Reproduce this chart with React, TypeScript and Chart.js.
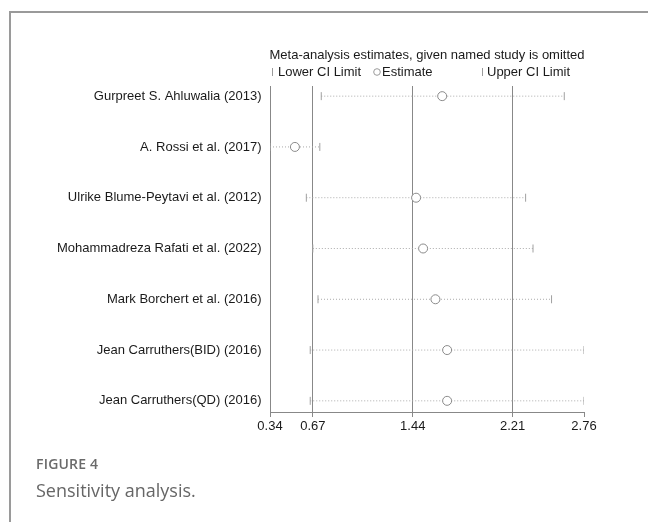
import React, { useEffect, useRef } from "react";
import { Chart, registerables } from "chart.js";
Chart.register(...registerables);

const studies = [
  "Gurpreet S. Ahluwalia (2013)",
  "A. Rossi et al. (2017)",
  "Ulrike Blume-Peytavi et al. (2012)",
  "Mohammadreza Rafati et al. (2022)",
  "Mark Borchert et al. (2016)",
  "Jean Carruthers(BID) (2016)",
  "Jean Carruthers(QD) (2016)",
];
const lowerCI = [0.735, 0.34, 0.62, 0.67, 0.71, 0.65, 0.65];
const estimate = [1.667, 0.532, 1.466, 1.52, 1.615, 1.705, 1.705];
const upperCI = [2.608, 0.724, 2.31, 2.367, 2.51, 2.76, 2.76];
const xTicks = [0.34, 0.67, 1.44, 2.21, 2.76];
const titleText = "Meta-analysis estimates, given named study is omitted";
const legendLower = "Lower CI Limit";
const legendEst = "Estimate";
const legendUpper = "Upper CI Limit";

const FONT = '"Liberation Sans", Arial, Helvetica, sans-serif';
const TEXT = "#1a1a1a";
const AXIS = "#888888";

export default function App() {
  const ref = useRef<HTMLCanvasElement>(null);
  useEffect(() => {
    const rows = studies.map((_, i) => i + 1);
    const ciSets: any[] = studies.map((_, i) => ({
      type: "line",
      data: [
        { x: lowerCI[i], y: rows[i] },
        { x: upperCI[i], y: rows[i] },
      ],
      borderColor: "#ababab",
      borderWidth: 1,
      borderDash: [1, 2],
      pointRadius: 0,
      fill: false,
      order: 3,
    }));
    const tickPts: any[] = [];
    studies.forEach((_, i) => {
      tickPts.push({ x: lowerCI[i], y: rows[i] });
      tickPts.push({ x: upperCI[i], y: rows[i] });
    });
    const annot = {
      id: "annot",
      afterDraw(chart: any) {
        const { ctx, chartArea, scales } = chart;
        const ys = scales.y;
        ctx.save();
        ctx.font = `13px ${FONT}`;
        ctx.fillStyle = TEXT;
        ctx.textBaseline = "middle";
        ctx.textAlign = "right";
        studies.forEach((s, i) => {
          ctx.fillText(s, chartArea.left - 8.5, ys.getPixelForValue(rows[i]));
        });
        ctx.textAlign = "center";
        ctx.fillText(titleText, (chartArea.left + chartArea.right) / 2, chartArea.top - 31);
        const ly = chartArea.top - 14;
        const L = chartArea.left;
        ctx.textAlign = "left";
        ctx.strokeStyle = "#9a9a9a";
        ctx.lineWidth = 1;
        ctx.beginPath();
        ctx.moveTo(L + 2.5, ly - 4);
        ctx.lineTo(L + 2.5, ly + 4);
        ctx.stroke();
        ctx.fillText(legendLower, L + 8, ly);
        ctx.beginPath();
        ctx.arc(L + 107, ly, 3.3, 0, Math.PI * 2);
        ctx.stroke();
        ctx.fillText(legendEst, L + 112, ly);
        ctx.beginPath();
        ctx.moveTo(L + 212.5, ly - 4);
        ctx.lineTo(L + 212.5, ly + 4);
        ctx.stroke();
        ctx.fillText(legendUpper, L + 217, ly);
        ctx.restore();
      },
    };
    const chart = new Chart(ref.current as HTMLCanvasElement, {
      type: "scatter",
      data: {
        datasets: [
          {
            type: "scatter",
            data: studies.map((_, i) => ({ x: estimate[i], y: rows[i] })),
            pointStyle: "circle",
            pointRadius: 4.5,
            borderColor: "#8a8a8a",
            backgroundColor: "#ffffff",
            borderWidth: 1,
            order: 1,
          } as any,
          {
            type: "scatter",
            data: tickPts,
            pointStyle: "line",
            rotation: 90,
            pointRadius: 4,
            borderColor: "#a0a0a0",
            borderWidth: 1,
            order: 2,
          } as any,
          ...ciSets,
        ],
      },
      options: {
        animation: false,
        responsive: false,
        events: [],
        layout: { padding: { left: 270, right: 64, top: 86, bottom: 80 } },
        plugins: { legend: { display: false }, tooltip: { enabled: false } },
        scales: {
          x: {
            type: "linear",
            min: 0.34,
            max: 2.76,
            afterBuildTicks: (axis: any) => {
              axis.ticks = xTicks.map((v) => ({ value: v }));
            },
            afterFit: (axis: any) => {
              axis.height = 30;
            },
            ticks: {
              autoSkip: false,
              maxRotation: 0,
              padding: 2,
              color: TEXT,
              font: { family: FONT, size: 13 },
              callback: (v: any) => Number(v).toFixed(2),
            },
            grid: {
              color: (c: any) => (c.tick && Math.abs(c.tick.value - 2.76) < 1e-6 ? "rgba(0,0,0,0)" : AXIS),
              tickColor: AXIS,
              tickLength: 5,
              lineWidth: 1,
            },
            border: { display: true, color: AXIS },
          },
          y: {
            type: "linear",
            reverse: true,
            min: 0.8,
            max: 7.22,
            display: false,
          },
        },
      },
      plugins: [annot],
    } as any);
    return () => chart.destroy();
  }, []);

  return (
    <div style={{ position: "fixed", left: 0, top: 0, width: 648, height: 522, overflow: "hidden", background: "#fff" }}>
      <div style={{ position: "absolute", left: 9, top: 11, width: 700, height: 600, borderLeft: "2px solid #9a9a9a", borderTop: "2px solid #9a9a9a" }} />
      <canvas ref={ref} width={648} height={522} style={{ position: "absolute", left: 0, top: 0, width: 648, height: 522 }} />
      <div style={{ position: "absolute", left: 36, top: 456, fontFamily: '"Open Sans", sans-serif', fontWeight: 600, fontSize: 14, lineHeight: "16px", color: "#6a6a6a", letterSpacing: "0.2px" }}>FIGURE 4</div>
      <div style={{ position: "absolute", left: 36, top: 479, fontFamily: '"Open Sans", sans-serif', fontWeight: 400, fontSize: 18, lineHeight: "22px", color: "#666" }}>Sensitivity analysis.</div>
    </div>
  );
}
